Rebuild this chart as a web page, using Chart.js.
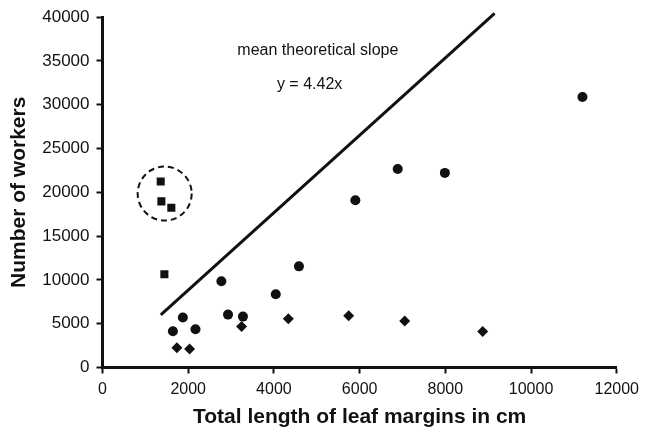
<!DOCTYPE html>
<html lang="en">
<head>
  <meta charset="UTF-8">
  <title>Workers vs leaf margins</title>
  <script src="https://cdn.jsdelivr.net/npm/chart.js"></script>
  <style>
    html, body { margin: 0; padding: 0; background: #fff; }
    #wrap { width: 645px; height: 432px; }
  </style>
</head>
<body>
  <div id="wrap"><canvas id="chart"></canvas></div>

  <script>
    // data (x = total leaf margin length in cm, y = number of workers)
    const squaresX = [1358, 1374, 1606, 1444];
    const squaresY = [21240, 18970, 18250, 10640];

    const circlesX = [1875, 1643, 2170, 2774, 2929, 3277, 4043, 4584, 5900, 6889, 7989, 11199];
    const circlesY = [5700, 4140, 4370, 9850, 6040, 5810, 8370, 11550, 19090, 22670, 22220, 30890];

    const diamondsX = [1736, 2031, 3245, 4336, 5745, 7051, 8871];
    const diamondsY = [2250, 2100, 4680, 5580, 5920, 5310, 4110];

    // mean theoretical slope y = 4.42x, two end points
    const slopeX = [1360, 9150];
    const slopeY = [6010, 40440];

    // dashed ring round the squares (data centre)
    const ringCentre = [1451, 19860];

    const notes = [
      { text: 'mean theoretical slope', x: 5025, y: 36140 },
      { text: 'y = 4.42x', x: 4833, y: 32280 }
    ];

    const toPts = (xs, ys) => xs.map((x, i) => ({ x: x, y: ys[i] }));
    const ink = '#111';
    const fam = '"Liberation Sans", Arial, Helvetica, sans-serif';

    const extras = {
      id: 'extras',
      afterDatasetsDraw(chart) {
        const { ctx, scales } = chart;
        const xs = scales.x, ys = scales.y;
        ctx.save();
        // dashed ring
        ctx.strokeStyle = ink;
        ctx.lineWidth = 2;
        ctx.setLineDash([6, 4]);
        ctx.beginPath();
        ctx.arc(xs.getPixelForValue(ringCentre[0]), ys.getPixelForValue(ringCentre[1]), 27, 0, Math.PI * 2);
        ctx.stroke();
        ctx.setLineDash([]);
        // text notes
        ctx.fillStyle = ink;
        ctx.font = '16px ' + fam;
        ctx.textAlign = 'center';
        ctx.textBaseline = 'middle';
        notes.forEach(n => {
          ctx.fillText(n.text, xs.getPixelForValue(n.x), ys.getPixelForValue(n.y));
        });
        ctx.restore();
      }
    };

    new Chart(document.getElementById('chart'), {
      type: 'scatter',
      data: {
        datasets: [
          {
            type: 'line',
            data: toPts(slopeX, slopeY),
            borderColor: ink,
            borderWidth: 3,
            pointRadius: 0,
            clip: false
          },
          {
            data: toPts(squaresX, squaresY),
            pointStyle: 'rect',
            pointRadius: 5.7,
            backgroundColor: ink,
            borderColor: ink,
            borderWidth: 0
          },
          {
            data: toPts(circlesX, circlesY),
            pointStyle: 'circle',
            pointRadius: 5,
            backgroundColor: ink,
            borderColor: ink,
            borderWidth: 0
          },
          {
            data: toPts(diamondsX, diamondsY),
            pointStyle: 'rectRot',
            pointRadius: 5.5,
            backgroundColor: ink,
            borderColor: ink,
            borderWidth: 0
          }
        ]
      },
      options: {
        responsive: true,
        maintainAspectRatio: false,
        animation: false,
        layout: { padding: { top: 15, right: 25.5, bottom: 0, left: 0 } },
        plugins: {
          legend: { display: false },
          tooltip: { enabled: false }
        },
        scales: {
          x: {
            type: 'linear',
            min: 0,
            max: 12000,
            afterFit: s => { s.height = 64.5; },
            border: { display: true, color: ink, width: 3 },
            grid: { drawOnChartArea: false, drawTicks: true, tickLength: 6, tickWidth: 2, tickColor: ink },
            ticks: { stepSize: 2000, padding: 6, color: ink, font: { family: fam, size: 16 }, callback: v => String(v) },
            title: {
              display: true,
              text: 'Total length of leaf margins in cm',
              color: ink,
              font: { family: fam, size: 21, weight: 'bold' },
              padding: { top: 0, bottom: 2.4 }
            }
          },
          y: {
            type: 'linear',
            min: 0,
            max: 40000,
            afterFit: s => { s.width = 102.5; },
            border: { display: true, color: ink, width: 3 },
            grid: { drawOnChartArea: false, drawTicks: true, tickLength: 6, tickWidth: 2, tickColor: ink },
            ticks: { stepSize: 5000, padding: 7, color: ink, font: { family: fam, size: 17 }, callback: v => String(v) },
            title: {
              display: true,
              text: 'Number of workers',
              color: ink,
              font: { family: fam, size: 21, weight: 'bold' },
              padding: { top: 6.4, bottom: 0 }
            }
          }
        }
      },
      plugins: [extras]
    });
  </script>
</body>
</html>
